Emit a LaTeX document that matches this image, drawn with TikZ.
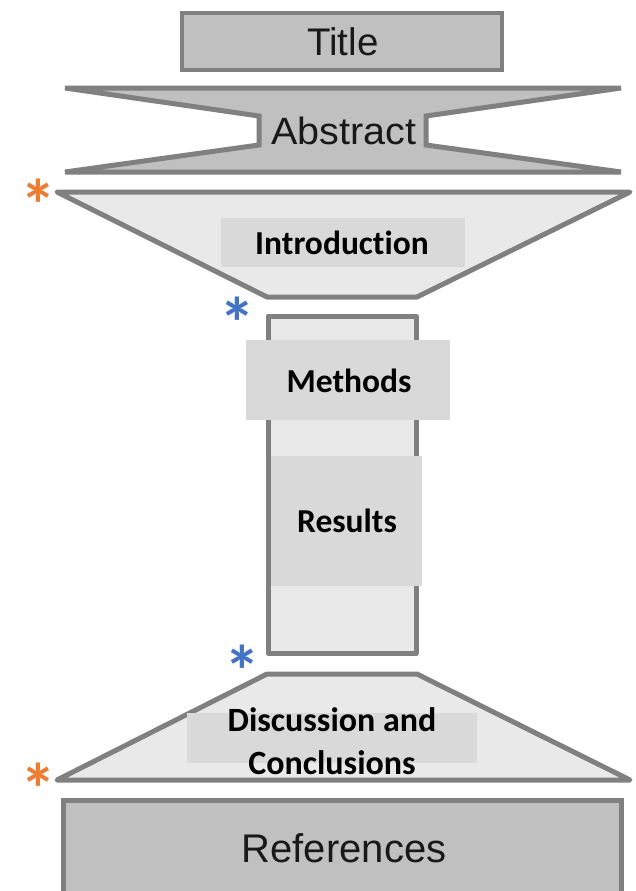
\documentclass[tikz,border=0pt]{standalone}
\usepackage{fontspec}
\setmainfont{Liberation Sans}
\newfontfamily\calib[Ligatures=NoCommon]{Carlito}
\definecolor{darkfill}{HTML}{C0C0C0}
\definecolor{lightfill}{HTML}{E9E9E9}
\definecolor{labelfill}{HTML}{D9D9D9}
\definecolor{edgegray}{HTML}{808080}
\definecolor{starorange}{HTML}{ED7D31}
\definecolor{starblue}{HTML}{4472C4}
\tikzset{
  darkshape/.style={fill=darkfill, draw=edgegray, line width=5pt, line join=miter},
  lightshape/.style={fill=lightfill, draw=edgegray, line width=5pt, line join=round},
  labelbox/.style={fill=labelfill, draw=none, inner sep=0pt, outer sep=0pt},
  boldlabel/.style={font=\calib\bfseries\fontsize{33.5}{40}\selectfont, text=black, align=center, inner sep=0pt},
  plainlabel/.style={text=black!90, inner sep=0pt},
  asterisk/.style={font=\calib\bfseries\fontsize{72}{72}\selectfont, inner sep=0pt, anchor=base},
}
\begin{document}
\begin{tikzpicture}[x=1pt, y=-1pt]
\useasboundingbox[fill=white] (0,0) rectangle (635,891);

% Title
\draw[darkshape, line width=4pt] (182,13) rectangle (502,70);
\node[plainlabel, font=\fontsize{38.5}{40}\selectfont] (title) at (343,42) {Title};

% Abstract
\draw[darkshape] (65,88) -- (621,88) -- (426,116) -- (426,145) -- (621,172)
  -- (65,172) -- (259,145) -- (259,116) -- cycle;
\node[plainlabel, font=\fontsize{38}{40}\selectfont, xscale=1.04] (abstract) at (344,131) {Abstract};

% Introduction
\draw[lightshape] (57,192) -- (630,192) -- (417,297) -- (267,297) -- cycle;
\node[labelbox, minimum width=244pt, minimum height=49pt] (introbox) at (343,242.5) {};
\node[boldlabel] (intro) at (342,243) {Introduction};

% Methods / Results
\draw[lightshape] (268,316) rectangle (416,653);
\node[labelbox, minimum width=204pt, minimum height=80pt] (methbox) at (348,380) {};
\node[boldlabel] (methods) at (349,381) {Methods};
\node[labelbox, minimum width=151pt, minimum height=130pt] (resbox) at (346.5,521) {};
\node[boldlabel] (results) at (347,521) {Results};

% Discussion
\draw[lightshape] (267,674) -- (417,674) -- (630,780) -- (57,780) -- cycle;
\node[labelbox, minimum width=290pt, minimum height=50pt] (discbox) at (332,738) {};
\node[boldlabel, font=\calib\bfseries\fontsize{34}{43}\selectfont] (disc) at (332,741) {Discussion and\\Conclusions};

% References
\draw[darkshape] (63,800) rectangle (621,895);
\node[plainlabel, font=\fontsize{40}{44}\selectfont] (refs) at (344,848) {References};

% Asterisks
\node[asterisk, text=starorange] (s1) at (38,230) {*};
\node[asterisk, text=starblue] (s2) at (237,348) {*};
\node[asterisk, text=starblue] (s3) at (242,696) {*};
\node[asterisk, text=starorange] (s4) at (38,814) {*};
\end{tikzpicture}
\end{document}
